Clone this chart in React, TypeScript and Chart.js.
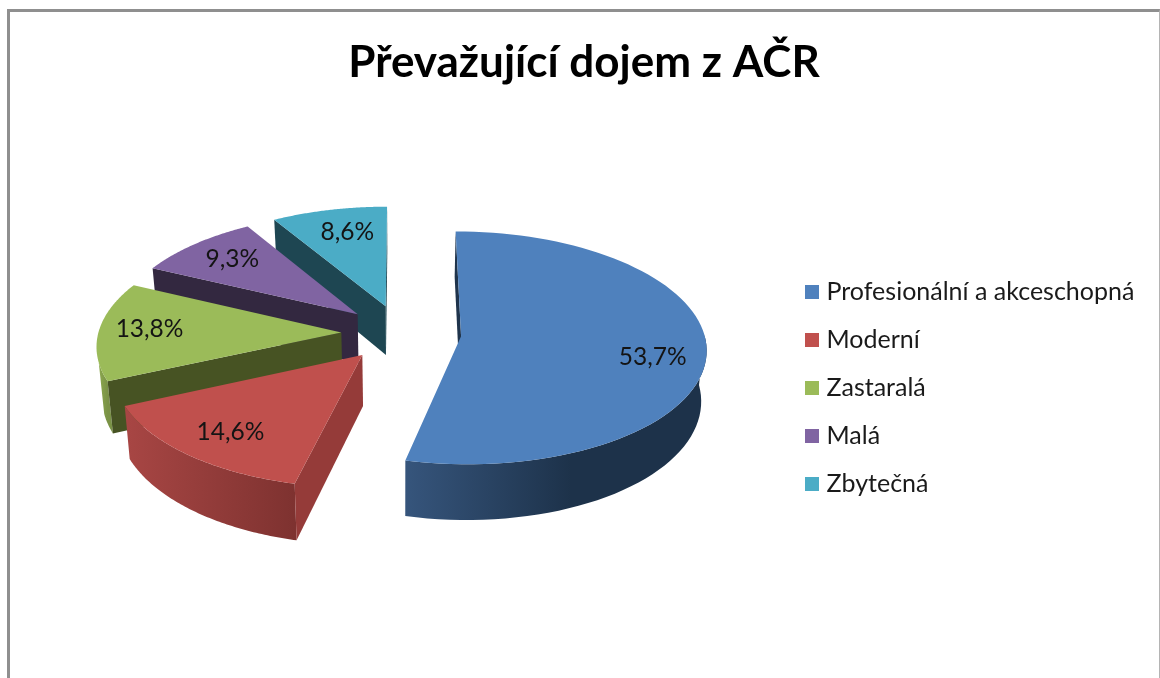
import React, { useEffect, useRef } from "react";
import { Chart, registerables } from "chart.js";

Chart.register(...registerables);

const TITLE = "Převažující dojem z AČR";
const categories = ["Profesionální a akceschopná", "Moderní", "Zastaralá", "Malá", "Zbytečná"];
const shares = [53.7, 14.6, 13.8, 9.3, 8.6];
const topColors = ["#4f81bd", "#c0504d", "#9bbb59", "#8064a2", "#4bacc6"];
const cutColors = ["#1f344c", "#953b39", "#475323", "#332840", "#1e4652"];
const rimStart = ["#36557c", "#a84644", "#8ca84f", "#66507f", "#3c899e"];
const rimEnd = ["#1d324a", "#7e3230", "#7a9246", "#5a4772", "#35798c"];
const rimStops = [0.55, 1, 1, 1, 1];
const rimMinSin = [-0.02, -0.02, 0.25, -0.02, -0.02];
const labelNudgeX = [3, 0, -5, 2, 6];
const labelNudgeY = [11, 2, -2, 0, 1];

const FONT = "Lato, 'Open Sans', sans-serif";
const RADIUS = 243;
const EXPLODE = 60;
const DEPTH = 50;
const TILT = 0.4715;
const PERSPECTIVE = 0.1;
const BOTTOM_SHRINK = 0.982;
const LABEL_RADIUS = 0.77;
const STEPS = 80;
const LEGEND_LEFT = 779;
const LEGEND_SHIFT = 114;
const TITLE_SHIFT = 4;
const SWATCH = 14;

const swatch = (color: string) => {
  const c = document.createElement("canvas");
  c.width = SWATCH;
  c.height = SWATCH;
  const g = c.getContext("2d")!;
  g.fillStyle = color;
  g.fillRect(0, 0, SWATCH, SWATCH);
  return c;
};

const pie3d = {
  id: "pie3d",
  beforeDatasetDraw() {
    return false;
  },
  afterLayout(chart: any) {
    const legend = chart.legend;
    const w = legend.right - legend.left;
    legend.left = LEGEND_LEFT;
    legend.right = legend.left + w;
    legend.top += LEGEND_SHIFT;
    legend.bottom += LEGEND_SHIFT;
    chart.titleBlock.left += TITLE_SHIFT;
    chart.titleBlock.right += TITLE_SHIFT;
  },
  afterDatasetsDraw(chart: any) {
    const ctx = chart.ctx;
    const arcs = chart.getDatasetMeta(0).data;
    const order = arcs.map((_: any, i: number) => i).reverse();
    const project = (cx: number, cy: number, px: number, py: number, low = false) => {
      const d = 1 - (PERSPECTIVE * py) / RADIUS;
      const s = low ? BOTTOM_SHRINK : 1;
      return {
        x: cx + (px / d) * s,
        y: cy + (py * TILT) / d + (low ? DEPTH / d : 0),
      };
    };
    const poly = (pts: { x: number; y: number }[], fill: any) => {
      ctx.beginPath();
      pts.forEach((p, k) => (k ? ctx.lineTo(p.x, p.y) : ctx.moveTo(p.x, p.y)));
      ctx.closePath();
      ctx.fillStyle = fill;
      ctx.fill();
    };
    ctx.save();
    for (const i of order) {
      const a = arcs[i].getProps(["x", "y", "startAngle", "endAngle", "outerRadius"], true);
      const mid = (a.startAngle + a.endAngle) / 2;
      const ox = Math.cos(mid) * EXPLODE;
      const oy = Math.sin(mid) * EXPLODE;
      const pt = (ang: number, r: number, low = false) =>
        project(a.x, a.y, ox + Math.cos(ang) * r, oy + Math.sin(ang) * r, low);
      const rimTop: { x: number; y: number }[] = [];
      const rimLow: { x: number; y: number }[] = [];
      const allTop: { x: number; y: number }[] = [];
      for (let k = 0; k <= STEPS; k++) {
        const ang = a.startAngle + ((a.endAngle - a.startAngle) * k) / STEPS;
        allTop.push(pt(ang, a.outerRadius));
        if (Math.sin(ang) > rimMinSin[i]) {
          rimTop.push(pt(ang, a.outerRadius));
          rimLow.push(pt(ang, a.outerRadius, true));
        }
      }
      const apex = pt(0, 0);
      const apexLow = pt(0, 0, true);
      // outer wall: only the part that faces the viewer
      if (rimTop.length > 1) {
        const xs = rimTop.map((p) => p.x);
        const grad = ctx.createLinearGradient(Math.min(...xs), 0, Math.max(...xs), 0);
        grad.addColorStop(0, rimStart[i]);
        grad.addColorStop(rimStops[i], rimEnd[i]);
        grad.addColorStop(1, rimEnd[i]);
        poly([...rimTop, ...rimLow.slice().reverse()], grad);
      }
      // cut faces that face the viewer
      if (Math.sin(a.startAngle - Math.PI / 2) > -0.05) {
        poly([apex, pt(a.startAngle, a.outerRadius), pt(a.startAngle, a.outerRadius, true), apexLow], cutColors[i]);
      }
      if (Math.sin(a.endAngle + Math.PI / 2) > -0.05) {
        poly([apex, pt(a.endAngle, a.outerRadius), pt(a.endAngle, a.outerRadius, true), apexLow], cutColors[i]);
      }
      // top face
      poly([apex, ...allTop], topColors[i]);
    }
    // value labels
    ctx.font = `24.5px ${FONT}`;
    ctx.fillStyle = "#141414";
    ctx.textAlign = "center";
    ctx.textBaseline = "middle";
    arcs.forEach((arc: any, i: number) => {
      const a = arc.getProps(["x", "y", "startAngle", "endAngle", "outerRadius"], true);
      const mid = (a.startAngle + a.endAngle) / 2;
      const r = EXPLODE + a.outerRadius * LABEL_RADIUS;
      const p = project(a.x, a.y, Math.cos(mid) * r, Math.sin(mid) * r);
      ctx.fillText(shares[i].toFixed(1).replace(".", ",") + "%", p.x + labelNudgeX[i], p.y + labelNudgeY[i]);
    });
    ctx.restore();
  },
};

export default function App() {
  const ref = useRef<HTMLCanvasElement>(null);
  useEffect(() => {
    const chart = new Chart(ref.current!, {
      type: "pie",
      data: {
        labels: categories,
        datasets: [{ data: shares, backgroundColor: topColors, borderWidth: 0 }],
      },
      plugins: [pie3d],
      options: {
        animation: false,
        responsive: false,
        radius: RADIUS,
        layout: { padding: { left: 0, right: 8, top: 0, bottom: 131 } },
        plugins: {
          tooltip: { enabled: false },
          title: {
            display: true,
            text: TITLE,
            color: "#000",
            font: { family: FONT, size: 44, weight: "bold" },
            padding: { top: 36, bottom: 30 },
          },
          legend: {
            position: "right",
            labels: {
              usePointStyle: true,
              boxWidth: 4,
              boxHeight: 14,
              padding: 23,
              color: "#1a1a1a",
              font: { family: FONT, size: 25 },
              generateLabels: (c: any) =>
                Chart.overrides.doughnut.plugins.legend.labels.generateLabels(c).map((l: any, i: number) => ({
                  ...l,
                  pointStyle: swatch(topColors[i]),
                })),
            },
          },
        },
      },
    } as any);
    return () => chart.destroy();
  }, []);
  return (
    <div style={{ position: "fixed", inset: 0, overflow: "hidden", background: "#fff" }}>
      <div
        style={{
          position: "absolute",
          left: 7,
          top: 9,
          width: 1149,
          height: 669,
          borderLeft: "3px solid #8f8f8f",
          borderTop: "3px solid #8f8f8f",
          borderRight: "1px solid #b4b4b4",
        }}
      />
      <canvas
        ref={ref}
        width={1152}
        height={678}
        style={{ position: "absolute", left: 8, top: 0, display: "block", filter: "blur(0.5px)" }}
      />
    </div>
  );
}
